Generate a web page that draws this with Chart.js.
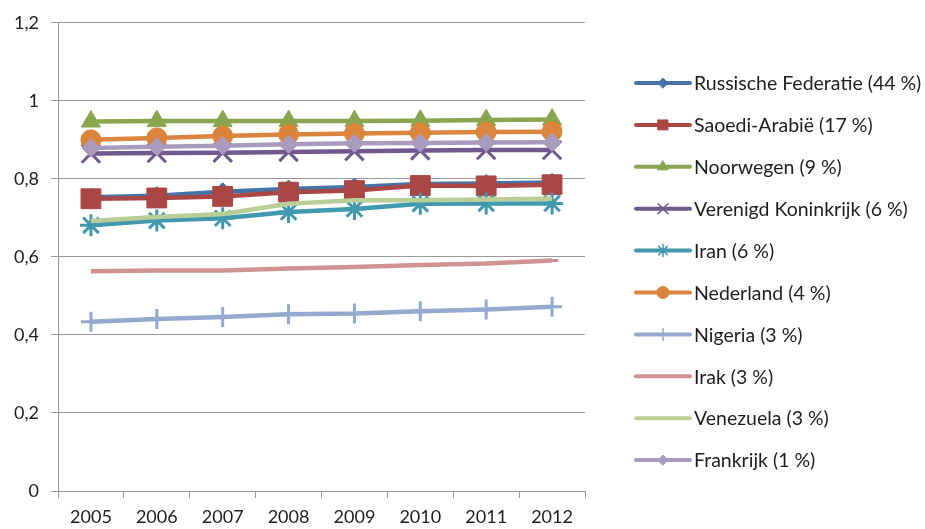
<!DOCTYPE html>
<html>
<head>
<meta charset="utf-8">
<script src="https://cdn.jsdelivr.net/npm/chart.js@4/dist/chart.umd.min.js"></script>
<style>
  html, body { margin: 0; padding: 0; background: #fff; }
  #wrap { width: 925px; height: 529px; }
</style>
</head>
<body>
<div id="wrap"><canvas id="chart" width="925" height="529"></canvas></div>
<script>
// Data
const years = ['2005', '2006', '2007', '2008', '2009', '2010', '2011', '2012'];
const yTicks = [0, 0.2, 0.4, 0.6, 0.8, 1, 1.2];

const russia    = [0.753, 0.757, 0.767, 0.774, 0.779, 0.787, 0.788, 0.791];
const saudi     = [0.749, 0.751, 0.755, 0.766, 0.770, 0.783, 0.782, 0.785];
const norway    = [0.947, 0.948, 0.948, 0.948, 0.948, 0.949, 0.951, 0.952];
const uk        = [0.865, 0.866, 0.867, 0.869, 0.871, 0.873, 0.874, 0.874];
const iran      = [0.681, 0.693, 0.699, 0.715, 0.723, 0.736, 0.737, 0.737];
const nl        = [0.900, 0.905, 0.910, 0.914, 0.916, 0.918, 0.920, 0.921];
const nigeria   = [0.434, 0.441, 0.446, 0.453, 0.455, 0.461, 0.465, 0.472];
const irak      = [0.563, 0.565, 0.565, 0.570, 0.574, 0.579, 0.583, 0.591];
const venezuela = [0.692, 0.702, 0.710, 0.736, 0.745, 0.745, 0.747, 0.749];
const france    = [0.879, 0.882, 0.885, 0.889, 0.891, 0.892, 0.893, 0.894];

const names = [
  'Russische Federatie (44 %)', 'Saoedi-Arabië (17 %)', 'Noorwegen (9 %)',
  'Verenigd Koninkrijk (6 %)', 'Iran (6 %)', 'Nederland (4 %)',
  'Nigeria (3 %)', 'Irak (3 %)', 'Venezuela (3 %)', 'Frankrijk (1 %)'
];
const values = [russia, saudi, norway, uk, iran, nl, nigeria, irak, venezuela, france];
const colors = ['#4572A7', '#AA4643', '#89A54E', '#71588F', '#4198AF',
                '#DB843D', '#93A9CF', '#D19392', '#B9CD96', '#A99BBD'];
const markers = ['rectRot', 'rect', 'triangle', 'crossRot', 'star',
                 'circle', 'cross', 'dash', false, 'rectRot'];
const markerSize = [9, 14, 11, 13, 11, 10, 10, 6, 0, 9];
const legendMarkerSize = [5, 7, 6, 7, 6, 6, 6, 4, 0, 5];

const FONT = 'Lato, "Open Sans", sans-serif';
const strokeMarkers = ['crossRot', 'star', 'cross', 'dash'];

const datasets = names.map((name, i) => ({
  label: name,
  data: values[i],
  borderColor: colors[i],
  backgroundColor: colors[i],
  borderWidth: 4.5,
  tension: 0,
  pointStyle: markers[i],
  pointRadius: markerSize[i],
  pointBorderWidth: strokeMarkers.includes(markers[i]) ? 3 : 1,
  pointHoverRadius: markerSize[i],
  order: 10 - i
}));

// Excel style legend: short line with the marker in the middle
const excelLegend = {
  id: 'excelLegend',
  afterDraw(chart) {
    const ctx = chart.ctx;
    const x0 = 636, x1 = 690, top = 83, gap = 41.9;
    ctx.save();
    names.forEach((name, i) => {
      const y = top + i * gap;
      ctx.strokeStyle = colors[i];
      ctx.lineWidth = 4;
      ctx.lineCap = 'round';
      ctx.beginPath();
      ctx.moveTo(x0, y);
      ctx.lineTo(x1, y);
      ctx.stroke();
      if (markers[i]) {
        ctx.fillStyle = colors[i];
        ctx.strokeStyle = colors[i];
        ctx.lineWidth = strokeMarkers.includes(markers[i]) ? 1.5 : 1;
        Chart.helpers.drawPoint(ctx, {pointStyle: markers[i], radius: legendMarkerSize[i], rotation: 0, borderWidth: ctx.lineWidth}, (x0 + x1) / 2, y);
      }
      ctx.fillStyle = '#1e1e1e';
      ctx.font = '19.5px ' + FONT;
      ctx.textBaseline = 'middle';
      ctx.textAlign = 'left';
      ctx.fillText(name, 694, y + 1);
    });
    ctx.restore();
  }
};

function initChart() {
  const ctx = document.getElementById('chart').getContext('2d');
  new Chart(ctx, {
    type: 'line',
    data: { labels: years, datasets: datasets },
    options: {
      responsive: false,
      animation: false,
      layout: { padding: { left: 0, right: 340, top: 22, bottom: 0 } },
      plugins: {
        legend: { display: false },
        tooltip: { enabled: false }
      },
      scales: {
        x: {
          offset: true,
          grid: { offset: true, drawOnChartArea: false, drawTicks: true, tickLength: 7, color: '#999999' },
          border: { color: '#999999', width: 1 },
          ticks: { color: '#1e1e1e', font: { family: FONT, size: 18 }, padding: 8, maxRotation: 0 },
          afterFit(scale) { scale.height = 38; }
        },
        y: {
          min: 0,
          max: 1.2,
          afterBuildTicks(scale) { scale.ticks = yTicks.map(v => ({ value: v })); },
          grid: { color: '#999999', tickLength: 7, lineWidth: 1 },
          border: { color: '#999999', width: 1 },
          ticks: {
            color: '#1e1e1e',
            font: { family: FONT, size: 18 },
            padding: 12,
            callback: v => String(Math.round(v * 10) / 10).replace('.', ',')
          },
          afterFit(scale) { scale.width = 58; }
        }
      }
    },
    plugins: [excelLegend]
  });
}

document.addEventListener('DOMContentLoaded', initChart);
</script>
</body>
</html>
